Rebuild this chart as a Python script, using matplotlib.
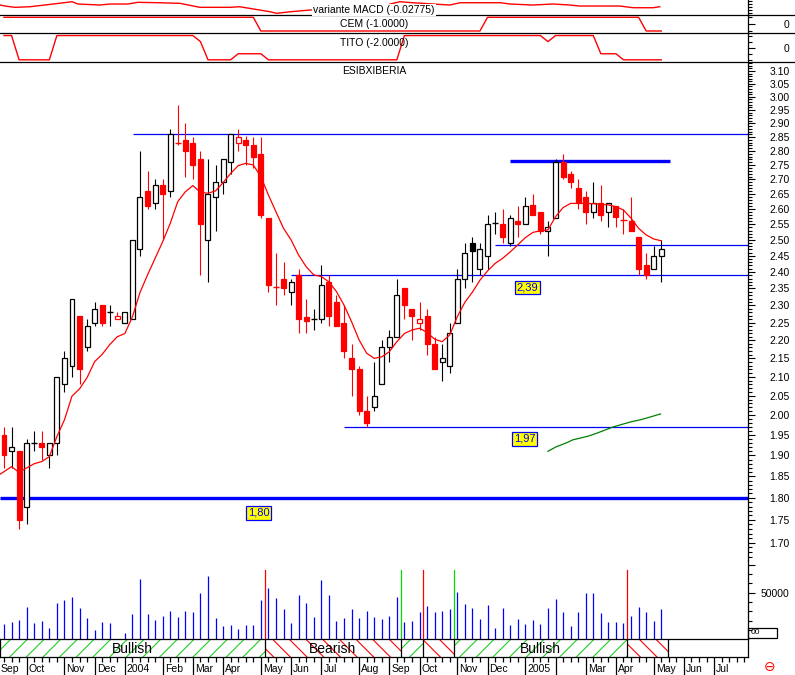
import numpy as np
import matplotlib
matplotlib.use("Agg")
import matplotlib.pyplot as plt
from matplotlib.patches import Rectangle
from matplotlib.lines import Line2D
from matplotlib.ticker import FixedLocator, NullFormatter, FuncFormatter

# weekly candles, ESIBXIBERIA, Sep 2003 - May 2005
opens = [1.95, 1.91, 1.91, 1.78, 1.93, 1.93, 1.90, 1.93, 2.08, 2.13,
         2.27, 2.18, 2.25, 2.30, 2.28, 2.26, 2.25, 2.26, 2.47, 2.66,
         2.62, 2.68, 2.66, 2.83, 2.84, 2.83, 2.77, 2.50, 2.64, 2.69,
         2.76, 2.83, 2.84, 2.82, 2.79, 2.57, 2.355, 2.38, 2.34, 2.39,
         2.265, 2.26, 2.26, 2.37, 2.31, 2.25, 2.15, 2.12, 2.01, 2.02,
         2.08, 2.18, 2.21, 2.35, 2.29, 2.25, 2.27, 2.19, 2.14, 2.13,
         2.25, 2.38, 2.49, 2.41, 2.45, 2.555, 2.55, 2.49, 2.56, 2.55,
         2.615, 2.59, 2.53, 2.57, 2.76, 2.72, 2.67, 2.64, 2.59, 2.62,
         2.59, 2.61, 2.565, 2.56, 2.51, 2.42, 2.41, 2.45]
highs = [1.97, 1.97, 1.91, 1.94, 1.96, 1.96, 1.93, 2.10, 2.17, 2.32,
         2.27, 2.26, 2.31, 2.30, 2.30, 2.28, 2.28, 2.50, 2.80, 2.73,
         2.70, 2.70, 2.88, 2.97, 2.90, 2.85, 2.80, 2.77, 2.75, 2.77,
         2.86, 2.88, 2.855, 2.85, 2.85, 2.57, 2.46, 2.43, 2.38, 2.41,
         2.32, 2.29, 2.42, 2.39, 2.33, 2.30, 2.19, 2.13, 2.05, 2.14,
         2.20, 2.23, 2.38, 2.35, 2.29, 2.31, 2.29, 2.21, 2.19, 2.25,
         2.41, 2.49, 2.51, 2.49, 2.58, 2.59, 2.60, 2.58, 2.61, 2.64,
         2.65, 2.59, 2.56, 2.77, 2.79, 2.73, 2.70, 2.66, 2.69, 2.68,
         2.62, 2.61, 2.60, 2.64, 2.51, 2.46, 2.48, 2.50]
lows = [1.87, 1.87, 1.73, 1.74, 1.91, 1.89, 1.87, 1.90, 2.06, 2.10,
        2.08, 2.17, 2.24, 2.24, 2.24, 2.26, 2.25, 2.26, 2.45, 2.60,
        2.60, 2.50, 2.64, 2.82, 2.71, 2.70, 2.39, 2.37, 2.53, 2.65,
        2.72, 2.80, 2.75, 2.74, 2.57, 2.34, 2.30, 2.33, 2.30, 2.22,
        2.22, 2.23, 2.25, 2.24, 2.24, 2.15, 2.05, 2.00, 1.97, 2.01,
        2.08, 2.14, 2.21, 2.26, 2.20, 2.23, 2.16, 2.12, 2.09, 2.11,
        2.25, 2.35, 2.37, 2.39, 2.41, 2.52, 2.49, 2.48, 2.51, 2.55,
        2.58, 2.52, 2.45, 2.57, 2.70, 2.67, 2.60, 2.55, 2.57, 2.56,
        2.54, 2.54, 2.52, 2.53, 2.39, 2.38, 2.41, 2.37]
closes = [1.90, 1.92, 1.75, 1.93, 1.93, 1.92, 1.93, 2.10, 2.15, 2.32,
          2.12, 2.24, 2.29, 2.25, 2.28, 2.27, 2.28, 2.50, 2.64, 2.61,
          2.68, 2.65, 2.86, 2.83, 2.80, 2.75, 2.55, 2.65, 2.69, 2.77,
          2.86, 2.85, 2.82, 2.78, 2.58, 2.36, 2.355, 2.35, 2.37, 2.26,
          2.255, 2.26, 2.36, 2.27, 2.24, 2.17, 2.12, 2.01, 1.98, 2.05,
          2.18, 2.21, 2.33, 2.30, 2.27, 2.26, 2.19, 2.12, 2.15, 2.22,
          2.38, 2.46, 2.465, 2.47, 2.55, 2.555, 2.51, 2.57, 2.55, 2.61,
          2.58, 2.53, 2.54, 2.76, 2.71, 2.69, 2.62, 2.59, 2.62, 2.58,
          2.62, 2.575, 2.565, 2.53, 2.41, 2.39, 2.45, 2.47]
volumes = [16400, 18600, 20700, 34700, 17500, 19600, 12100, 39000, 42200, 45400,
           33600, 22900, 10000, 18600, 17500, 0, 6800, 27100, 64700, 27100,
           20700, 25000, 30400, 23900, 30400, 29300, 49700, 68200, 22900, 14300,
           15300, 11100, 15300, 15300, 42200, 55000, 44300, 32500, 17500, 47500,
           39000, 23900, 63600, 47500, 19600, 22900, 32500, 22900, 30400, 23900,
           21800, 25000, 45400, 18600, 19600, 29300, 35700, 29300, 30400, 32500,
           50800, 37900, 33600, 21800, 36800, 12100, 33600, 15300, 21800, 16400,
           20700, 16400, 33600, 43200, 29300, 14300, 29300, 49700, 49700, 28200,
           18600, 18600, 17500, 25000, 34700, 29300, 19600, 32500]
ma_weeks = [-0.53] + list(range(88))
moving_avg = [1.855,
              1.861, 1.873, 1.859, 1.870, 1.880, 1.885, 1.897, 1.946, 1.988, 2.049,
              2.068, 2.098, 2.141, 2.161, 2.188, 2.210, 2.219, 2.267, 2.338, 2.391,
              2.442, 2.494, 2.553, 2.625, 2.658, 2.679, 2.656, 2.653, 2.661, 2.689,
              2.721, 2.748, 2.756, 2.750, 2.710, 2.647, 2.591, 2.537, 2.500, 2.452,
              2.416, 2.391, 2.386, 2.370, 2.341, 2.301, 2.253, 2.201, 2.164, 2.150,
              2.154, 2.168, 2.196, 2.219, 2.229, 2.234, 2.222, 2.203, 2.196, 2.215,
              2.267, 2.309, 2.339, 2.375, 2.403, 2.426, 2.442, 2.462, 2.484, 2.507,
              2.524, 2.529, 2.532, 2.575, 2.605, 2.619, 2.619, 2.619, 2.618, 2.616,
              2.614, 2.608, 2.597, 2.570, 2.537, 2.516, 2.503, 2.497]
long_avg_weeks = [72.0, 73.1, 74.5, 75.3, 76.2, 77.3, 78.4, 79.8, 80.6, 81.7, 83.0, 84.2, 85.5, 86.9]
long_avg = [1.910, 1.921, 1.931, 1.938, 1.942, 1.947, 1.954, 1.964, 1.970, 1.976, 1.983, 1.988, 1.995, 2.003]

# indicator panels
macd_weeks = [-0.53, 0.13, 1.46, 3.44, 6.49, 9.0, 9.79, 12.7, 14.0, 16.4, 17.7, 20.4, 23.3,
              25.9, 29.9, 31.2, 35.2, 36.1, 37.9, 40.5, 49.8, 51.1, 52.4, 54.1, 56.8, 59.0,
              60.4, 65.7, 67.0, 70.0, 72.7, 74.9, 76.2, 81.5, 83.3, 85.9, 86.8]
macd_values = [-0.011, -0.021, -0.034, -0.028, -0.001, 0.022, -0.001, -0.011, -0.001, -0.001,
               0.016, 0.012, 0.006, -0.034, -0.034, -0.028, -0.078, -0.094, -0.078, -0.061,
               -0.044, -0.001, 0.022, 0.012, -0.001, -0.011, 0.012, 0.012, -0.001, -0.011,
               -0.001, -0.011, -0.021, -0.021, -0.038, -0.038, -0.028]
cem = [1, 1, 1, 1, 1, 1, 1, 1, 1, 1, 1, 1, 1, 1, 1, 1, 1, 1, 1, 1, 1, 1, 1, 1, 1, 1, 1, 1, 1, 1,
       1, 1, 1, 1, -1, -1, -1, -1, -1, -1, -1, -1, -1, -1, -1, -1, -1, -1, -1, -1, -1, -1, -1, -1,
       -1, -1, -1, -1, -1, -1, -1, -1, -1, -1, 1, 1, 1, 1, 1, 1, 1, 1, 1, 1, 1, 1, 1, 1, 1, 1,
       1, 1, 1, 1, 1, -1, -1, -1]
tito = [2, 2, -2, -2, -2, -2, -2, 2, 2, 2, 2, 2, 2, 2, 2, 2, 2, 2, 2, 2, 2, 2, 2, 2, 2, 2,
        1, -2, -2, -2, -2, -1, -1, -1, -1, -2, -2, -2, -2, -2, -2, -2, -2, -2, -2, -2, -2, -2,
        -2, -2, -2, -2, -2, 2, 2, 2, 2, 2, 2, 2, 2, 2, 2, 2, 2, 2, 2, 2, 2, 2, 2, 2, 1, 2, 2,
        2, 2, 2, 2, -1, -1, -1, -2, -2, -2, -2, -2, -2]

# support / resistance lines
level_prices = [2.86, 2.765, 2.485, 2.39, 1.97, 1.80]
level_from = [17.1, 67.0, 65.0, 38.0, 45.0, -0.53]
level_to = [98.5, 88.1, 98.5, 98.5, 98.5, 98.5]
level_bold = [False, True, False, False, False, True]
tag_texts = ["2,39", "1,97", "1,80"]
tag_prices = [2.39, 1.97, 1.80]
tag_weeks = [69.3, 68.9, 33.7]

# trend band
band_start = [-0.53, 34.5, 52.5, 55.5, 59.5, 82.5]
band_end = [34.5, 52.5, 55.5, 59.5, 82.5, 87.9]
band_kind = ["Bullish", "Bearish", "Bullish", "Bearish", "Bullish", "Bearish"]

month_weeks = [-0.7, 3, 8, 12, 16, 21, 25, 29, 34, 38, 42, 47, 51, 55, 60, 64, 69, 73, 77, 81, 86, 90, 94]
month_labels = ["Sep", "Oct", "Nov", "Dec", "2004", "Feb", "Mar", "Apr", "May", "Jun", "Jul", "Aug",
                "Sep", "Oct", "Nov", "Dec", "2005", "", "Mar", "Apr", "May", "Jun", "Jul"]

W, H = 795, 675
X0, X1 = -0.53, 98.48
AXIS_X = 748
RED, BLUE, BLACK = "#ff0000", "#0000ff", "#000000"

plt.rcParams["font.family"] = ["Liberation Sans", "DejaVu Sans"]
plt.rcParams["hatch.linewidth"] = 0.8


def panel(top, bottom):
    ax = fig.add_axes([0, 1 - bottom / H, AXIS_X / W, (bottom - top) / H])
    ax.set_xlim(X0, X1)
    for side in ("left", "top", "bottom"):
        ax.spines[side].set_visible(False)
    ax.spines["right"].set_linewidth(0.9)
    ax.xaxis.set_visible(False)
    ax.yaxis.tick_right()
    ax.patch.set_alpha(0)
    return ax


def right_ticks(ax, major, minor, fmt):
    ax.yaxis.set_major_locator(FixedLocator(major))
    ax.yaxis.set_minor_locator(FixedLocator(minor))
    ax.yaxis.set_major_formatter(FuncFormatter(fmt))
    ax.yaxis.set_minor_formatter(NullFormatter())
    ax.tick_params(axis="y", which="major", length=5, width=0.8, pad=25, labelsize=7.5)
    ax.tick_params(axis="y", which="minor", length=3, width=0.8)
    for label in ax.get_yticklabels():
        label.set_horizontalalignment("right")


fig = plt.figure(figsize=(W / 100, H / 100), dpi=100)
fig.patch.set_facecolor("white")

# --- indicator panels ---
ax_macd = panel(0, 15)
ax_macd.plot(macd_weeks, macd_values, color=RED, lw=1)
ax_macd.set_ylim(-0.11075, 0.03925)
right_ticks(ax_macd, [], [-0.09, -0.06, -0.03, 0.0, 0.03], lambda v, p: "")

weeks = np.arange(len(closes))
ax_cem = panel(15, 33.3)
ax_cem.plot(weeks, cem, color=RED, lw=1)
ax_cem.set_ylim(-1.336, 1.336)
right_ticks(ax_cem, [0], [-1, 1], lambda v, p: "0")

ax_tito = panel(33.3, 62)
ax_tito.plot(weeks, tito, color=RED, lw=1)
ax_tito.set_ylim(-2.36, 2.37)
right_ticks(ax_tito, [0], [-2, -1, 1, 2], lambda v, p: "0")

for y in (15, 33.3, 62):
    fig.add_artist(Line2D([0, 1], [1 - y / H] * 2, transform=fig.transFigure, color=BLACK, lw=0.9))

fig.text(374 / W, 1 - 10 / H, "variante MACD (-0.02775)", ha="center", va="center", fontsize=7.5,
         bbox=dict(boxstyle="square,pad=0.1", fc="white", ec="none"))
fig.text(374 / W, 1 - 24.3 / H, "CEM (-1.0000)", ha="center", va="center", fontsize=7.5)
fig.text(374 / W, 1 - 43.3 / H, "TITO (-2.0000)", ha="center", va="center", fontsize=7.5)
fig.text(374 / W, 1 - 71.3 / H, "ESIBXIBERIA", ha="center", va="center", fontsize=7.5)

# --- price panel ---
ax = panel(62, 560)
ax.set_yscale("log")
ax.set_ylim(1.663, 3.1357)
ax.set_xlim(X0, X1)
right_ticks(ax, np.round(np.arange(1.70, 3.101, 0.05), 2), np.round(np.arange(1.66, 3.135, 0.01), 2),
            lambda v, p: f"{v:.2f}")

o, h, l, c = (np.array(a) for a in (opens, highs, lows, closes))
prev = np.r_[np.inf, c[:-1]]
col = np.where(c >= prev, BLACK, RED)
ax.vlines(weeks, l, h, colors=col, lw=0.8, zorder=3)
body = c != o
face = np.where(c > o, "white", col)
ax.bar(weeks[body], np.abs(c - o)[body], bottom=np.minimum(o, c)[body], width=0.66,
       color=face[body], edgecolor=col[body], lw=0.9, zorder=4)
ax.hlines(c[~body], weeks[~body] - 0.4, weeks[~body] + 0.4, colors=col[~body], lw=1, zorder=4)

ax.plot(ma_weeks, moving_avg, color=RED, lw=0.9, zorder=5)
ax.plot(long_avg_weeks, long_avg, color="#008000", lw=0.9, zorder=5)

for p, a, b, bold in zip(level_prices, level_from, level_to, level_bold):
    ax.hlines(p, a, b, colors=BLUE, lw=2.4 if bold else 0.9, zorder=2)

for txt, p, w in zip(tag_texts, tag_prices, tag_weeks):
    ax.annotate(txt, (w, p), xytext=(0, -12 if p > 1.9 else -15), textcoords="offset pixels",
                ha="center", va="center", fontsize=8, color=BLUE, zorder=6,
                bbox=dict(boxstyle="square,pad=0.15", fc="#ffff00", ec=BLUE, lw=0.9))

# --- volume panel ---
ax_vol = panel(560, 639.3)
ax_vol.set_ylim(0, 85090)
ax_vol.vlines(weeks, 0, volumes, colors=BLUE, lw=0.9)
for s, kind in zip(band_start[1:], band_kind[1:]):
    ax_vol.axvline(s, ymin=0, ymax=0.874, color=RED if kind == "Bearish" else "#00dd00", lw=0.9)
right_ticks(ax_vol, [50000, 80000], [10000, 20000, 30000, 40000, 60000, 70000],
            lambda v, p: "50000" if v == 50000 else "")
fig.add_artist(Rectangle((AXIS_X / W, 1 - 638 / H), 28.7 / W, 10.3 / H, transform=fig.transFigure,
                         fill=False, ec=BLACK, lw=0.9))
fig.text(751 / W, 1 - 633 / H, "00", ha="left", va="center", fontsize=6)

# --- trend band ---
ax_band = fig.add_axes([0, 1 - 657.3 / H, AXIS_X / W, 18 / H])
ax_band.set_xlim(X0, X1)
ax_band.set_ylim(0, 1)
for sp in ax_band.spines.values():
    sp.set_linewidth(0.9)
for s, e, kind in zip(band_start, band_end, band_kind):
    hatch_col = "#22cc22" if kind == "Bullish" else RED
    ax_band.add_patch(Rectangle((s, 0), e - s, 1, fc="white", ec=hatch_col, lw=0,
                                hatch="//" if kind == "Bullish" else "\\\\"))
    ax_band.axvline(e, color=BLACK, lw=0.9)
    if e - s > 10:
        ax_band.text((s + e) / 2, 0.45, kind, ha="center", va="center", fontsize=10)
ax_band.set_yticks([])
ax_band.xaxis.set_major_locator(FixedLocator(month_weeks))
ax_band.xaxis.set_minor_locator(FixedLocator(list(range(0, 99))))
ax_band.xaxis.set_major_formatter(NullFormatter())
ax_band.tick_params(axis="x", which="major", length=13, width=0.9)
ax_band.tick_params(axis="x", which="minor", length=3.3, width=0.9)
for w, name in zip(month_weeks, month_labels):
    ax_band.annotate(name, (w, 0), xycoords=("data", "axes fraction"), xytext=(2, -12),
                     textcoords="offset pixels", ha="left", va="center", fontsize=7.5,
                     annotation_clip=False)

fig.text(770 / W, 1 - 667 / H, "\u2296", color=RED, ha="center", va="center", fontsize=10)

fig.savefig("out.png", dpi=100, facecolor="white")
